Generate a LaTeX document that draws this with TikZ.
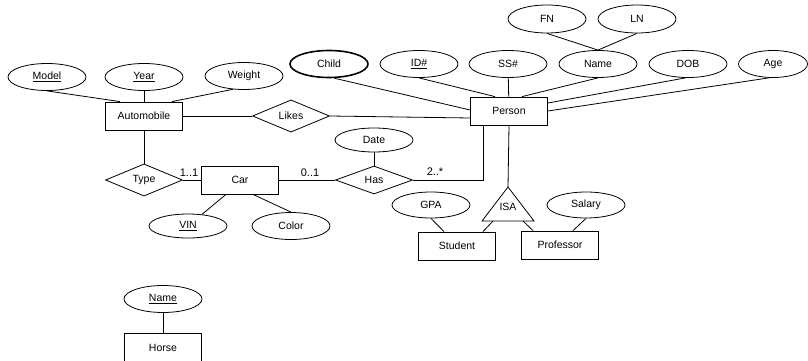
\documentclass[tikz,border=0pt]{standalone}
\usepackage{fontspec}
\setmainfont{Liberation Sans}
\usetikzlibrary{shapes.geometric}

\begin{document}
\begin{tikzpicture}[x=1pt, y=-1pt, line width=0.8pt,
    font=\fontsize{10.5}{12}\selectfont,
    entity/.style={draw, rectangle, minimum width=77pt, minimum height=28pt, inner sep=0pt},
    attrib/.style={draw, ellipse, minimum width=78pt, minimum height=27pt, inner sep=0pt},
    relship/.style={draw, diamond, minimum width=77pt, minimum height=28pt, inner sep=0pt},
    card/.style={inner sep=1pt, font=\fontsize{11}{12}\selectfont}]
    \useasboundingbox (0,0) rectangle (808,361);

    % automobile and car
    \node[attrib] (model) at (47,77) {\underline{Model}};
    \node[attrib] (year) at (144,77) {\underline{Year}};
    \node[attrib] (weight) at (244,76) {Weight};
    \node[entity] (automobile) at (144,116) {Automobile};
    \node[relship] (likes) at (291,116) {Likes};
    \node[relship] (type) at (144,180) {Type};
    \node[entity] (car) at (240,180) {Car};
    \node[relship] (has) at (374,180) {Has};
    \node[attrib, minimum height=24pt] (date) at (374,140) {Date};
    \node[attrib, minimum height=24pt] (vin) at (188,226) {\underline{VIN}};
    \node[attrib] (color) at (291,226) {Color};

    % person and its attributes
    \node[entity] (person) at (509,111) {Person};
    \node[attrib, line width=1.6pt] (child) at (329,64) {Child};
    \foreach \nm/\x/\txt in {id/419/\underline{ID\#}, ss/508/SS\#, name/598/Name, dob/688/DOB} {
        \node[attrib] (\nm) at (\x,64) {\txt};
    }
    \node[attrib, minimum width=69pt] (age) at (773,64) {Age};
    \node[attrib, minimum height=28pt] (fn) at (547,19) {FN};
    \node[attrib, minimum height=28pt] (ln) at (637,19) {LN};

    % isa triangle
    \coordinate (isatop) at (508,187);
    \coordinate (isaleft) at (482,221);
    \coordinate (isaright) at (534,221);
    \coordinate (isasl) at (493,221);
    \coordinate (isasr) at (523,221);
    \draw (isatop) -- (isaleft) -- (isaright) -- cycle;
    \node (isa) at (508,207) {ISA};
    \node[entity] (student) at (457,246) {Student};
    \node[entity] (professor) at (560,245) {Professor};
    \node[attrib, minimum height=26pt] (gpa) at (431,205) {GPA};
    \node[attrib, minimum height=26pt] (salary) at (586,205) {Salary};

    % horse
    \node[attrib] (hname) at (163,299) {\underline{Name}};
    \node[entity, minimum height=30pt] (horse) at (163,348) {Horse};

    % cardinalities
    \node[card] (c11) at (189,173) {1..1};
    \node[card] (c01) at (310,173) {0..1};
    \node[card] (c2m) at (435,172) {2..*};

    \draw (model.south) -- ([xshift=-24pt]automobile.north);
    \draw (year) -- (automobile);
    \draw (weight.230) -- ([xshift=28pt]automobile.north);
    \draw (automobile) -- (likes);
    \draw (likes.east) -- ([yshift=-7pt]person.west);
    \draw (automobile) -- (type);
    \draw (type) -- (car);
    \draw (car) -- (has);
    \draw (has.east) -| ([xshift=-26pt]person.south);
    \draw (date) -- (has);
    \draw ([xshift=-14pt]car.south) -- (vin);
    \draw ([xshift=13pt]car.south) -- (color.north);

    \draw (child.290) -- ([yshift=1pt]person.west);
    \draw (id.south) -- ([xshift=-14pt]person.north);
    \draw (ss) -- (person);
    \draw (name.south) -- ([xshift=13pt]person.north);
    \draw (dob.260) -- ([yshift=8pt]person.east);
    \draw (age.255) -- (person.east);
    \draw (fn.south) -- (name.north);
    \draw (ln.south) -- (name.north);

    \draw (person.south) -- (isatop);
    \draw (isasl) -- ([xshift=26pt]student.north);
    \draw (isasr) -- ([xshift=-27pt]professor.north);
    \draw (gpa.south) -- ([xshift=-13pt]student.north);
    \draw (salary.south) -- ([xshift=13pt]professor.north);
    \draw (hname) -- (horse);
\end{tikzpicture}
\end{document}
